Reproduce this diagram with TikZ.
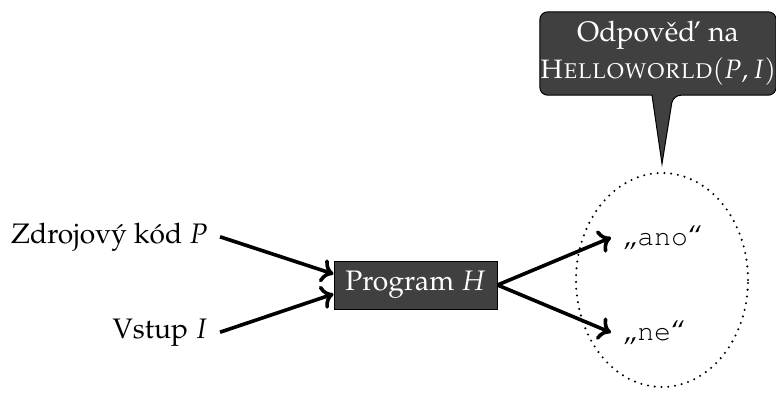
\documentclass[tikz,border=0pt]{standalone}
\usepackage[T1]{fontenc}
\usepackage{mathpazo}
\usetikzlibrary{shapes.geometric,arrows.meta,backgrounds,calc}
\definecolor{boxgray}{HTML}{404040}
\tikzset{
  every node/.style={font=\fontsize{28.2}{37}\selectfont},
  lbl/.style={inner xsep=12pt, inner ysep=2pt},
  progbox/.style={draw=black, line width=1pt, fill=boxgray, text=white,
    minimum width=163pt, minimum height=48pt, inner sep=0pt},
  conn/.style={line width=3.6pt, -{Computer Modern Rightarrow[length=12pt,width=24pt]}},
  respell/.style={ellipse, draw, line width=2.3pt, dash pattern=on 0pt off 6.8pt,
    line cap=round, minimum width=172pt, minimum height=214pt, inner sep=0pt},
  calltext/.style={text=white, align=center, inner sep=0pt,
    minimum width=230pt, minimum height=83pt},
  callbg/.style={fill=boxgray, draw=black, line width=1pt},
}
\begin{document}
\begin{tikzpicture}[x=1pt,y=-1pt]
\useasboundingbox (0,0) rectangle (776,394);
% nodes
\node (src) [lbl, anchor=base east] at (220,243) {Zdrojov\'y k\'od $P$};
\node (vst) [lbl, anchor=base east] at (220,338) {Vstup $I$};
\node (prog) [progbox] at (415.5,285) {Program $H$};
\node (resp) [respell] at (662,280) {};
\node (ano) [lbl, anchor=base west] at (611,245) {\quotedblbase{\fontfamily{pcr}\selectfont ano}\textquotedblleft};
\node (ne) [lbl, anchor=base west] at (611,340) {\quotedblbase{\fontfamily{pcr}\selectfont ne}\textquotedblleft};
\node (cbox) [calltext] at (658,53.5) {Odpov\v{e}\v{d} na\\{\fontsize{26.6}{37}\selectfont\textsc{Helloworld}$(P,I)$}};
\coordinate (tip) at ([yshift=8pt]resp.north);
% callout background
\begin{pgfonlayer}{background}
\draw[callbg, rounded corners=8pt] (cbox.north) -- (cbox.north east) -- (cbox.south east)
  -- ([xshift=15pt]cbox.south) [sharp corners] -- (tip) -- ([xshift=-6pt]cbox.south)
  [rounded corners=8pt] -- (cbox.south west) -- (cbox.north west) -- cycle;
\end{pgfonlayer}
% connectors
\draw[conn] (src.east) -- ([yshift=11pt]prog.west);
\draw[conn] (vst.east) -- ([yshift=-9pt]prog.west);
\draw[conn] (prog.east) -- (ano.west);
\draw[conn] (prog.east) -- (ne.west);
\end{tikzpicture}
\end{document}
